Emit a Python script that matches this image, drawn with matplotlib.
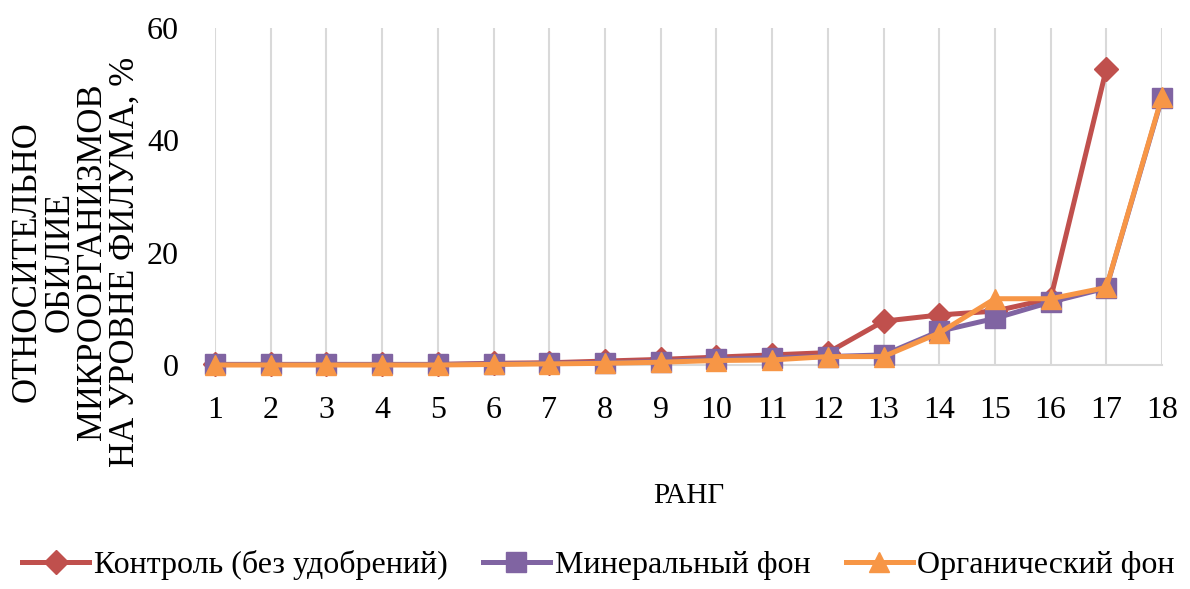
import matplotlib
matplotlib.use("Agg")
import matplotlib.pyplot as plt
import numpy as np

plt.rcParams["font.family"] = ["Liberation Serif", "DejaVu Serif"]

# rank categories and relative abundance (%) per treatment
ranks = list(range(1, 19))
control = [0.1, 0.1, 0.1, 0.1, 0.1, 0.3, 0.4, 0.7, 1.0, 1.4, 1.8, 2.2, 7.8, 8.9, 9.6, 11.8, 52.7]
mineral = [0.1, 0.1, 0.1, 0.1, 0.1, 0.2, 0.3, 0.4, 0.6, 1.0, 1.3, 1.5, 1.8, 6.0, 8.3, 11.2, 13.7, 47.6]
organic = [0.0, 0.0, 0.0, 0.0, 0.0, 0.1, 0.2, 0.3, 0.5, 0.8, 0.9, 1.5, 1.5, 5.7, 11.8, 11.8, 13.8, 47.8]
labels = ["Контроль (без удобрений)", "Минеральный фон", "Органический фон"]

fig = plt.figure(figsize=(11.9, 5.89), dpi=100)
ax = fig.add_axes([0.1807, 0.3803, 0.7958, 0.5722])

ax.plot(ranks[:len(control)], control, color="#C0504D", lw=3.6, marker="D",
        ms=12, label=labels[0], clip_on=False, zorder=3)
ax.plot(ranks, mineral, color="#8064A2", lw=3.6, marker="s",
        ms=14, label=labels[1], clip_on=False, zorder=4)
ax.plot(ranks, organic, color="#F79646", lw=3.6, marker="^",
        ms=15, label=labels[2], clip_on=False, zorder=5)

ax.set_xlim(1, 18)
ax.set_ylim(0, 60)
ax.set_xticks(ranks)
ax.set_yticks([0, 20, 40, 60])
ax.grid(axis="x", color="#d9d9d9", lw=1.5)
ax.set_axisbelow(True)
for s in ["top", "right", "left"]:
    ax.spines[s].set_visible(False)
ax.spines["bottom"].set_color("#d9d9d9")
ax.spines["bottom"].set_linewidth(1.5)
ax.tick_params(length=0, labelsize=23)
ax.tick_params(axis="x", pad=22)
ax.tick_params(axis="y", pad=26)

ax.set_xlabel("РАНГ", fontsize=21, labelpad=42)

fig.text(0.064, 0.555,
         "ОТНОСИТЕЛЬНО\nОБИЛИЕ\nМИКРООРГАНИЗМОВ\nНА УРОВНЕ ФИЛУМА, %",
         rotation=90, ha="center", va="center", multialignment="center",
         fontsize=25, linespacing=1.0)

fig.legend(loc="center", bbox_to_anchor=(0.503, 0.04), ncol=3, frameon=False,
           fontsize=23, handlelength=2.1, handletextpad=0.15, columnspacing=1.1)

fig.savefig("out.png", dpi=100)
